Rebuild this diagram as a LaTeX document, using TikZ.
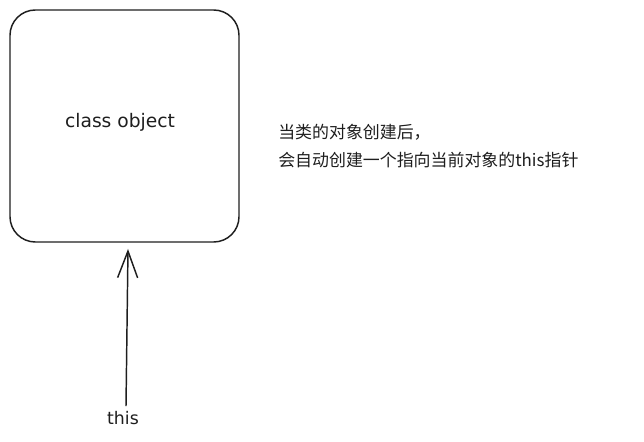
\documentclass[tikz,border=0pt]{standalone}
\usepackage{fontspec}
\setmainfont{DejaVu Sans}
\newfontfamily\cjk{Noto Sans CJK SC}
\usetikzlibrary{arrows.meta}
\definecolor{ink}{HTML}{1E1E1E}
\tikzset{
  objbox/.style={draw=ink, line width=1.1pt, rounded corners=19pt, minimum width=171.75pt, minimum height=174pt, inner sep=0pt},
  lbl/.style={text=ink, inner sep=0pt},
  ptr/.style={draw=ink, line width=1.1pt, -{Straight Barb[length=20pt,width=15pt,line width=1.1pt]}}
}
\begin{document}
\begin{tikzpicture}[x=0.75pt,y=-0.75pt]
\useasboundingbox (0,0) rectangle (644,442);
\node[objbox] (obj) at (124.5,126) {};
\node[lbl, font=\fontsize{14}{16}\selectfont] (cls) at (120,122) {class object};
\node[lbl, font=\fontsize{13}{16}\selectfont] (this) at (123,418) {this};
\node[lbl, anchor=north west, align=left, font=\cjk\fontsize{12.7}{21}\selectfont] (note) at (278,124) {当类的对象创建后，\\会自动创建一个指向当前对象的this指针};
\coordinate (tip) at (128,249);
\draw[ptr] (this.north) ++(3,-5) -- (tip);
\end{tikzpicture}
\end{document}
